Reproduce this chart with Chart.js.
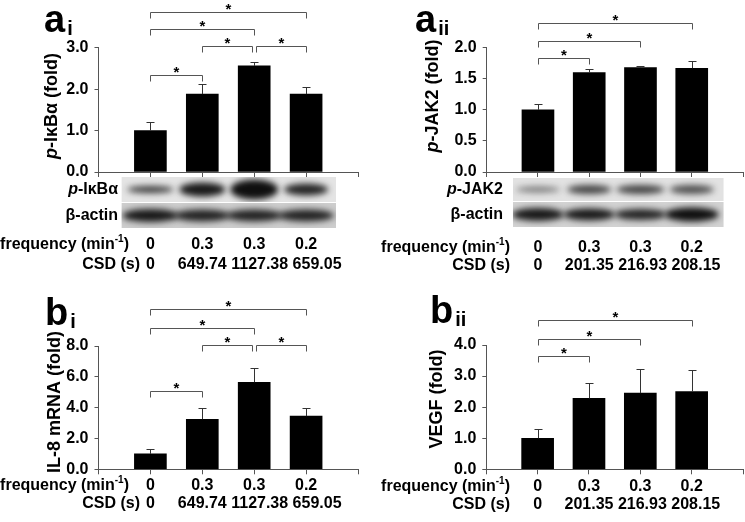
<!DOCTYPE html>
<html>
<head>
<meta charset="utf-8">
<script src="https://cdn.jsdelivr.net/npm/chart.js@4"></script>
<style>
  body { margin: 0; background: #fff; width: 745px; height: 522px; position: relative; overflow: hidden; }
  canvas { position: absolute; }
</style>
</head>
<body>
<canvas id="ai"></canvas>
<canvas id="aii"></canvas>
<canvas id="bi"></canvas>
<canvas id="bii"></canvas>
<script>
// lanes: shear frequency (min^-1) and CSD (s)
const lanes = ['0', '0.3', '0.3', '0.2'];
const csdA = ['0', '649.74', '1127.38', '659.05'];
const csdB = ['0', '201.35', '216.93', '208.15'];

// fold changes and upper SD
const pIkB = [1.0, 1.88, 2.56, 1.88];
const pIkBErr = [0.21, 0.24, 0.10, 0.18];
const pJak2 = [1.0, 1.60, 1.68, 1.67];
const pJak2Err = [0.10, 0.05, 0.03, 0.12];
const il8 = [1.0, 3.25, 5.65, 3.45];
const il8Err = [0.30, 0.70, 0.95, 0.50];
const vegf = [1.0, 2.28, 2.45, 2.50];
const vegfErr = [0.30, 0.50, 0.78, 0.70];

// y tick labels
const ticksAi = ['0.0', '1.0', '2.0', '3.0'];
const ticksAii = ['0.0', '0.5', '1.0', '1.5', '2.0'];
const ticksBi = ['0.0', '2.0', '4.0', '6.0', '8.0'];
const ticksBii = ['0.0', '1.0', '2.0', '3.0', '4.0'];

// significant pairs (lane a, lane b, bracket height in y units)
const sigAi = [[0, 1, 2.33], [1, 2, 3.05], [2, 3, 3.05], [0, 2, 3.45], [0, 3, 3.85]];
const sigAii = [[0, 1, 1.84], [0, 2, 2.11], [0, 3, 2.39]];
const sigBi = [[0, 1, 5.08], [1, 2, 8.06], [2, 3, 8.06], [0, 2, 9.14], [0, 3, 10.38]];
const sigBii = [[0, 1, 3.66], [0, 2, 4.19], [0, 3, 4.80]];

// blot band look: [darkness, width, height]
const bandPIkB = [[0.8, 46, 7], [0.95, 46, 14], [1, 48, 20], [0.9, 44, 12]];
const bandActinA = [[0.95, 56, 13], [0.9, 56, 12], [0.9, 56, 12], [0.9, 56, 12]];
const bandJak2 = [[0.5, 44, 6], [0.75, 44, 9], [0.75, 48, 9], [0.7, 44, 9]];
const bandActinB = [[0.95, 52, 13], [0.95, 52, 12], [0.9, 52, 11], [1, 54, 14]];

const F = (s, it) => (it ? 'italic ' : '') + 'bold ' + s + 'px "Liberation Sans", Arial, sans-serif';
const AX = '#555';

function drawParts(ctx, parts, size, x, y, align) {
  let total = 0;
  parts.forEach(p => { ctx.font = F(size, p[1]); total += ctx.measureText(p[0]).width; });
  let cx = align === 'right' ? x - total : align === 'center' ? x - total / 2 : x;
  ctx.textAlign = 'left';
  parts.forEach(p => { ctx.font = F(size, p[1]); ctx.fillText(p[0], cx, y); cx += ctx.measureText(p[0]).width; });
}

function freqLabel(ctx, xr, y) {
  ctx.font = F(16); const w1 = ctx.measureText('frequency (min').width;
  ctx.font = F(10); const w2 = ctx.measureText('-1').width;
  ctx.font = F(16); const w3 = ctx.measureText(')').width;
  let x = xr - w1 - w2 - w3;
  ctx.textAlign = 'left';
  ctx.font = F(16); ctx.fillText('frequency (min', x, y); x += w1;
  ctx.font = F(10); ctx.fillText('-1', x, y - 7); x += w2;
  ctx.font = F(16); ctx.fillText(')', x, y);
}

function drawBlot(ctx, x0, x1, row, centers) {
  ctx.save();
  ctx.beginPath(); ctx.rect(x0, row.y0, x1 - x0, row.y1 - row.y0); ctx.clip();
  ctx.fillStyle = row.bg; ctx.fillRect(x0, row.y0, x1 - x0, row.y1 - row.y0);
  ctx.filter = 'blur(3px)';
  const my = (row.y0 + row.y1) / 2;
  centers.forEach((cx, i) => {
    const b = row.bands[i];
    ctx.fillStyle = 'rgba(15,15,15,' + b[0] + ')';
    ctx.beginPath(); ctx.ellipse(cx, my, b[1] / 2, b[2] / 2, 0, 0, Math.PI * 2); ctx.fill();
  });
  ctx.restore();
}

const extras = {
  id: 'extras',
  afterDraw(chart) {
    const p = chart.options.plugins.extras;
    const ctx = chart.ctx, xs = chart.scales.x, ys = chart.scales.y;
    const cx = i => xs.getPixelForValue(i + 1);
    ctx.save();
    ctx.fillStyle = '#000';
    ctx.textBaseline = 'alphabetic';

    // error bars
    ctx.strokeStyle = '#333'; ctx.lineWidth = 1;
    p.values.forEach((v, i) => {
      const x = Math.round(cx(i)) + 0.5, y0 = ys.getPixelForValue(v), y1 = Math.round(ys.getPixelForValue(v + p.errors[i])) + 0.5;
      ctx.beginPath(); ctx.moveTo(x, y0); ctx.lineTo(x, y1); ctx.moveTo(x - 4, y1); ctx.lineTo(x + 4, y1); ctx.stroke();
    });

    // significance brackets
    p.sig.forEach(s => {
      const shared = (lane, side) => p.sig.some(o => o !== s && o[2] === s[2] && o[side] === lane);
      const x1 = Math.round(cx(s[0]) + (shared(s[0], 1) ? 2 : 0)) + 0.5;
      const x2 = Math.round(cx(s[1]) - (shared(s[1], 0) ? 2 : 0)) + 0.5;
      const y = Math.round(ys.getPixelForValue(s[2])) + 0.5;
      ctx.strokeStyle = AX;
      ctx.beginPath(); ctx.moveTo(x1, y + 6); ctx.lineTo(x1, y); ctx.lineTo(x2, y); ctx.lineTo(x2, y + 6); ctx.stroke();
      ctx.font = F(15); ctx.textAlign = 'center';
      ctx.fillText('*', (x1 + x2) / 2, y + 1);
    });

    // panel letter
    ctx.textAlign = 'left';
    ctx.font = F(38); ctx.fillText(p.letter[0], p.letterAt[0], p.letterAt[1]);
    const lw = ctx.measureText(p.letter[0]).width;
    ctx.font = F(20); ctx.fillText(p.letter[1], p.letterAt[0] + lw + 2, p.letterAt[1] + 3);

    // y title
    ctx.save();
    ctx.translate(p.titleAt[0], p.titleAt[1]); ctx.rotate(-Math.PI / 2);
    ctx.textBaseline = 'middle';
    drawParts(ctx, p.title, 18, 0, 0, 'center');
    ctx.restore();

    // blots
    if (p.blot) {
      const bx0 = cx(0) + p.blot.x0, bx1 = cx(3) + p.blot.x1;
      const centers = lanes.map((_, i) => cx(i));
      p.blot.rows.forEach(r => {
        drawBlot(ctx, bx0, bx1, r, centers);
        ctx.fillStyle = '#000'; ctx.textBaseline = 'middle';
        drawParts(ctx, r.label, 16, p.blot.labelRight, (r.y0 + r.y1) / 2, 'right');
      });
      ctx.textBaseline = 'alphabetic';
    }

    // frequency / CSD rows
    ctx.fillStyle = '#000';
    freqLabel(ctx, p.rowRight, p.freqY);
    ctx.font = F(16); ctx.textAlign = 'center';
    lanes.forEach((t, i) => ctx.fillText(t, cx(i), p.freqY));
    ctx.textAlign = 'right'; ctx.fillText('CSD (s)', p.csdRight, p.csdY);
    ctx.textAlign = 'center';
    const sp = ctx.measureText(' ').width;
    let prevRight = -1e9;
    p.csd.forEach((t, i) => {
      const w = ctx.measureText(t).width;
      const x = Math.max(cx(i), prevRight + sp + w / 2);
      ctx.fillText(t, x, p.csdY);
      prevRight = x + w / 2;
    });
    ctx.restore();
  }
};

const panels = [
  { id: 'ai', box: [0, 0, 372, 275], area: [98.5, 358, 47.7, 172],
    values: pIkB, errors: pIkBErr, ticks: ticksAi, sig: sigAi, csd: csdA,
    letter: ['a', 'i'], letterAt: [44, 32], title: [['p', true], ['-IκBα (fold)', false]], titleAt: [52, 106],
    freqY: 249, csdY: 269, rowRight: 129, csdRight: 140,
    blot: { x0: -29, x1: 30, labelRight: 118, rows: [
      { y0: 177, y1: 202, bg: '#e4e4e4', bands: bandPIkB, label: [['p', true], ['-IκBα', false]] },
      { y0: 203, y1: 228, bg: '#cdcdcd', bands: bandActinA, label: [['β-actin', false]] } ] } },
  { id: 'aii', box: [370, 0, 375, 275], area: [116.7, 373, 47.7, 172],
    values: pJak2, errors: pJak2Err, ticks: ticksAii, sig: sigAii, csd: csdB,
    letter: ['a', 'ii'], letterAt: [45, 32], title: [['p', true], ['-JAK2 (fold)', false]], titleAt: [63, 96],
    freqY: 252, csdY: 270, rowRight: 140, csdRight: 140,
    blot: { x0: -25, x1: 32, labelRight: 133, rows: [
      { y0: 178, y1: 201, bg: '#e2e2e2', bands: bandJak2, label: [['p', true], ['-JAK2', false]] },
      { y0: 202, y1: 227, bg: '#d2d2d2', bands: bandActinB, label: [['β-actin', false]] } ] } },
  { id: 'bi', box: [0, 260, 372, 262], area: [98.5, 358, 86, 209.3],
    values: il8, errors: il8Err, ticks: ticksBi, sig: sigBi, csd: csdA,
    letter: ['b', 'i'], letterAt: [45, 65], title: [['IL-8 mRNA (fold)', false]], titleAt: [55, 142],
    freqY: 230, csdY: 248, rowRight: 129, csdRight: 140 },
  { id: 'bii', box: [370, 260, 375, 262], area: [116.3, 373, 85, 209.3],
    values: vegf, errors: vegfErr, ticks: ticksBii, sig: sigBii, csd: csdB,
    letter: ['b', 'ii'], letterAt: [60, 63], title: [['VEGF (fold)', false]], titleAt: [67, 139],
    freqY: 231, csdY: 249, rowRight: 140, csdRight: 140 }
];

panels.forEach(p => {
  const cv = document.getElementById(p.id);
  const [L, T, W, H] = p.box;
  cv.style.left = L + 'px'; cv.style.top = T + 'px';
  cv.width = W; cv.height = H;
  const tickVals = p.ticks.map(Number);
  new Chart(cv, {
    type: 'bar',
    data: {
      labels: ['', ...lanes, ''],
      datasets: [{ data: [null, ...p.values, null], backgroundColor: '#000', borderWidth: 0, barThickness: 32 }]
    },
    options: {
      responsive: false, animation: false, devicePixelRatio: 1,
      layout: { padding: { left: 0, top: p.area[2], right: W - p.area[1], bottom: H - p.area[3] } },
      plugins: { legend: { display: false }, tooltip: { enabled: false }, extras: p },
      scales: {
        x: {
          offset: false,
          grid: { offset: false, drawOnChartArea: false, drawTicks: true, tickLength: 5, color: AX },
          border: { color: AX },
          ticks: { display: false },
          afterFit: s => { s.height = 0; }
        },
        y: {
          min: tickVals[0], max: tickVals[tickVals.length - 1],
          afterBuildTicks: s => { s.ticks = tickVals.map(v => ({ value: v })); },
          grid: { drawOnChartArea: false, tickLength: 4, color: AX },
          border: { color: AX },
          ticks: { padding: 6, color: '#000', font: { family: '"Liberation Sans", Arial, sans-serif', size: 16, weight: 'bold' },
                   callback: (v) => p.ticks[tickVals.indexOf(v)] },
          afterFit: s => { s.width = p.area[0]; }
        }
      }
    },
    plugins: [extras]
  });
});
</script>
</body>
</html>
